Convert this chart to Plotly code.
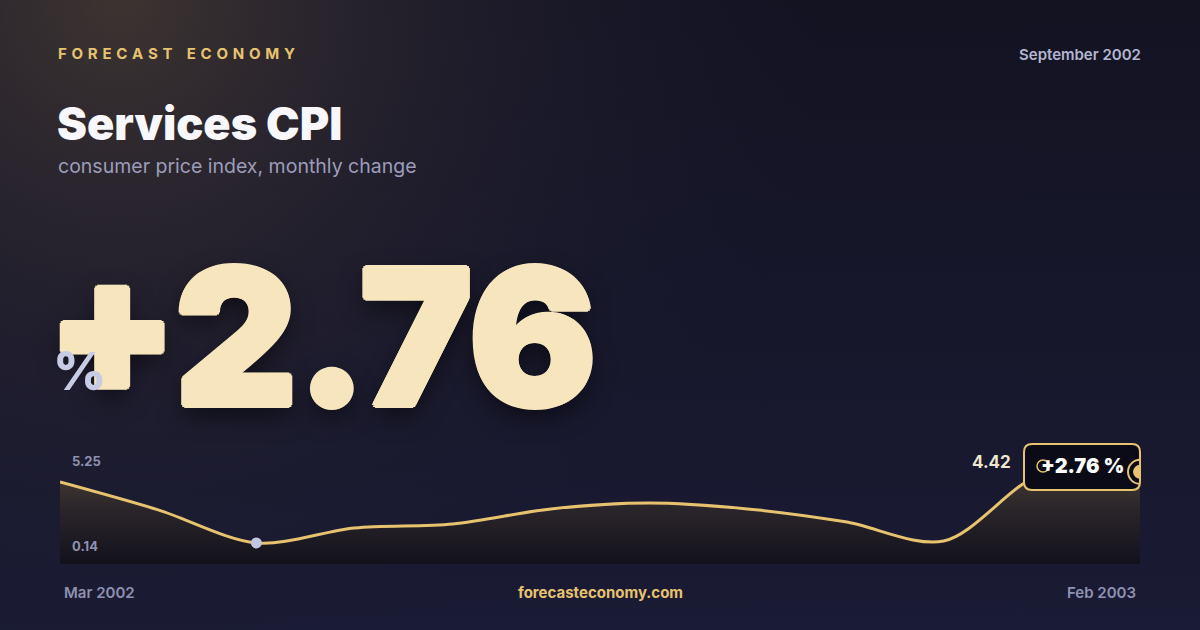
import urllib.parse
import plotly.graph_objects as go

W, H = 1200, 630

# data
months = ["Mar 2002", "Apr 2002", "May 2002", "Jun 2002", "Jul 2002", "Aug 2002",
          "Sep 2002", "Oct 2002", "Nov 2002", "Dec 2002", "Jan 2003", "Feb 2003"]
cpi = [3.81, 2.13, 0.14, 1.04, 1.28, 2.19, 2.55, 2.19, 1.41, 0.25, 4.30, 4.42]
change_pct = 2.76
range_labels = ["5.25", "0.14"]
brand = "FORECAST ECONOMY"
title = "Services CPI"
subtitle = "consumer price index, monthly change"
period = "September 2002"
site = "forecasteconomy.com"

GOLD = "#e8c36f"
MUTED = "#8f91b0"
CREAM = "#f6e5bd"
y_range = [-1.13, 6.34]


def px(x):
    return x / W


def py(y):
    return 1 - y / H


# background: navy with a warm glow in the top left corner
svg = (
    "<svg xmlns='http://www.w3.org/2000/svg' width='1200' height='630'>"
    "<defs>"
    "<linearGradient id='b' x1='0' y1='0' x2='0' y2='1'>"
    "<stop offset='0' stop-color='#131322'/><stop offset='1' stop-color='#1a1b34'/>"
    "</linearGradient>"
    "<radialGradient id='g' cx='120' cy='0' r='700' gradientUnits='userSpaceOnUse'>"
    "<stop offset='0' stop-color='#3d3431' stop-opacity='1'/>"
    "<stop offset='0.45' stop-color='#2a2530' stop-opacity='0.6'/>"
    "<stop offset='1' stop-color='#1a1a30' stop-opacity='0'/>"
    "</radialGradient>"
    "</defs>"
    "<rect width='1200' height='630' fill='url(#b)'/>"
    "<rect width='1200' height='630' fill='url(#g)'/>"
    "</svg>"
)
bg_src = "data:image/svg+xml;charset=utf-8," + urllib.parse.quote(svg)

fig = go.Figure()

# baseline for the area fill
fig.add_trace(go.Scatter(x=months, y=[y_range[0]] * len(months), mode="lines",
                         line=dict(width=0), hoverinfo="skip", showlegend=False))
fig.add_trace(go.Scatter(
    x=months, y=cpi, mode="lines",
    line=dict(color=GOLD, width=3, shape="spline", smoothing=0.9),
    fill="tonexty",
    fillgradient=dict(type="vertical",
                      colorscale=[[0, "#12111c"], [0.6, "#2b262a"], [1, "#463c33"]]),
    hoverinfo="skip", showlegend=False))

# minimum point marker
i_min = cpi.index(min(cpi))
fig.add_trace(go.Scatter(x=[months[i_min]], y=[cpi[i_min]], mode="markers",
                         marker=dict(color="#c3c6e0", size=11), hoverinfo="skip",
                         showlegend=False))

fig.update_xaxes(domain=[px(60), px(1140)], range=[0, len(months) - 1],
                 visible=False, showgrid=False, zeroline=False)
fig.update_yaxes(domain=[py(564), py(440)], range=y_range,
                 visible=False, showgrid=False, zeroline=False)

# label box at the end of the line
bx0, bx1, by0, by1, r = 1024, 1140, 444, 490, 8
path = (f"M {px(bx0 + r)},{py(by0)} L {px(bx1 - r)},{py(by0)} "
        f"Q {px(bx1)},{py(by0)} {px(bx1)},{py(by0 + r)} L {px(bx1)},{py(by1 - r)} "
        f"Q {px(bx1)},{py(by1)} {px(bx1 - r)},{py(by1)} L {px(bx0 + r)},{py(by1)} "
        f"Q {px(bx0)},{py(by1)} {px(bx0)},{py(by1 - r)} L {px(bx0)},{py(by0 + r)} "
        f"Q {px(bx0)},{py(by0)} {px(bx0 + r)},{py(by0)} Z")
fig.add_shape(type="path", path=path, xref="paper", yref="paper",
              fillcolor="#0b0b17", line=dict(color=GOLD, width=2), layer="above")

# end point: ring + dot anchored to the last value
for size, fill, lw in [(24, "rgba(0,0,0,0)", 2), (14, GOLD, 0)]:
    fig.add_shape(type="circle", xref="x", yref="y",
                  xsizemode="pixel", ysizemode="pixel",
                  xanchor=len(months) - 1, yanchor=cpi[-1],
                  x0=-size / 2, x1=size / 2, y0=-size / 2, y1=size / 2,
                  fillcolor=fill, line=dict(color=GOLD, width=lw), layer="above")

BLACK = "Inter Black, Inter ExtraBold, Inter, sans-serif"


def note(text, x, y, size, color, weight=400, xanchor="left", yanchor="middle",
         family="Inter, Noto Sans, sans-serif", shadow="none"):
    fig.add_annotation(text=text, x=px(x), y=py(y), xref="paper", yref="paper",
                       xanchor=xanchor, yanchor=yanchor, showarrow=False,
                       font=dict(size=size, color=color, family=family,
                                 weight=weight, shadow=shadow))


spaced = "\u00a0\u00a0\u00a0\u00a0".join("\u00a0\u200a".join(w) for w in brand.split(" "))
note(spaced, 56, 53, 15, GOLD, 700)
note(period, 1143, 54, 15, "#b3b5d1", 600, xanchor="right")
note(title, 55, 124, 45, "#f8f8fc", 900, family=BLACK)
note(subtitle, 56, 166, 19.5, "#9c9dba", 400)

# big headline number, strokes thickened with tight shadows plus a soft drop shadow
thick = ", ".join(f"{dx}px {dy}px 0 {CREAM}" for dx, dy in
                  [(3, 0), (-3, 0), (0, 3), (0, -3), (2, 2), (-2, 2), (2, -2), (-2, -2)])
note(f"+{change_pct:.2f}", 45, 336, 188, CREAM, 900, family=BLACK,
     shadow=thick + ", 0px 10px 24px rgba(0,0,0,0.55)")
note("%", 51, 371, 52, "#c8cbe4", 800)

# chart labels
note(range_labels[0], 70, 461, 13, MUTED, 700)
note(range_labels[1], 70, 546, 13, MUTED, 700)
note(f"{cpi[-1]:.2f}", 1013, 462, 17, "#efe6cf", 700, xanchor="right")
note(f"+{change_pct:.2f} %", 1082, 466, 20, "#ffffff", 800, xanchor="center", family=BLACK)

note(months[0], 62, 592, 15, MUTED, 600)
note(site, 600, 592, 15, GOLD, 700, xanchor="center")
note(months[-1], 1138, 592, 15, MUTED, 600, xanchor="right")

# small ring drawn over the sign of the box label
fig.add_shape(type="circle", xref="paper", yref="paper",
              x0=px(1037), x1=px(1049), y0=py(460), y1=py(472),
              line=dict(color=GOLD, width=1.5), layer="above")

fig.update_layout(
    width=W, height=H, margin=dict(l=0, r=0, t=0, b=0),
    paper_bgcolor="#161628", plot_bgcolor="rgba(0,0,0,0)",
    hovermode=False,
    images=[dict(source=bg_src, xref="paper", yref="paper", x=0, y=1,
                 sizex=1, sizey=1, sizing="stretch", layer="below")],
)

fig.write_html("out.html", config={"displayModeBar": False},
               post_script="document.body.style.margin='0';")
